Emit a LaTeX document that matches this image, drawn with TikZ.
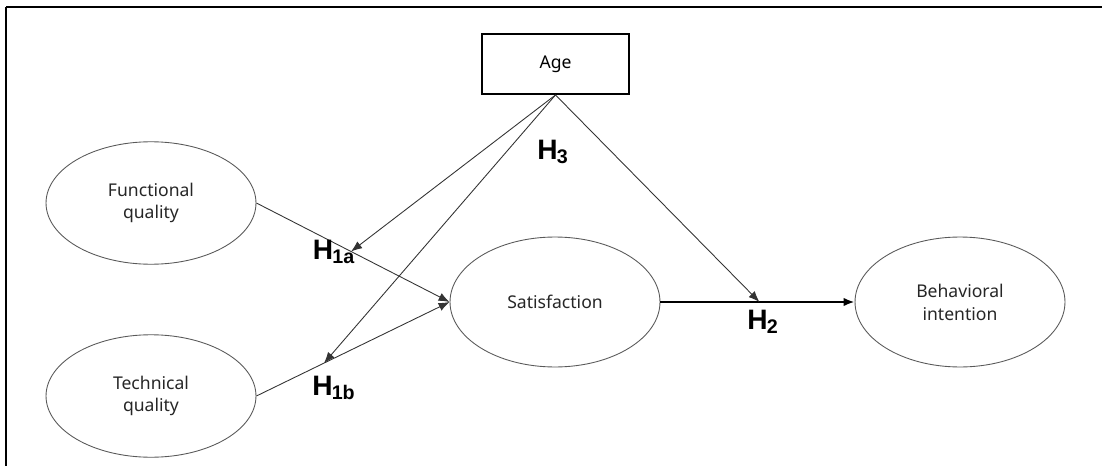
\documentclass[tikz,border=0pt]{standalone}
\usepackage{fontspec}
\setmainfont{Noto Sans}
\newfontfamily\hfont{Liberation Sans}
\usepackage{tikz}
\usetikzlibrary{positioning, arrows.meta, shapes.geometric}

\begin{document}
\begin{tikzpicture}[x=0.02cm, y=-0.02cm,
    construct/.style={draw=black!65, line width=0.5pt, ellipse, minimum width=4.2cm,
                 minimum height=2.45cm, align=center, inner sep=0pt,
                 font=\fontsize{10}{13}\selectfont, text=black!85},
    outcome/.style={construct, minimum height=2.6cm},
    modbox/.style={draw, line width=1.1pt, minimum width=2.94cm, minimum height=1.2cm,
                 font=\fontsize{10}{13}\selectfont},
    hyp/.style={font=\hfont\bfseries\fontsize{16}{18}\selectfont, inner sep=0pt},
    flow/.style={-{Latex[length=2.2mm, width=1.7mm]}, draw=black!80, line width=0.5pt},
    mainflow/.style={flow, draw=black, line width=1.2pt}]
    \useasboundingbox (0,0) rectangle (1102,466);
    \draw[line width=1.1pt] (6,7) -- (1102,7);
    \draw[line width=1.1pt] (6,7) -- (6,466);

    \node[modbox] (age) at (555.5,64) {Age};
    \node[construct] (func) at (151,203) {Functional\\quality};
    \node[construct] (tech) at (151,396) {Technical\\quality};
    \node[outcome] (sat) at (555,302) {Satisfaction};
    \node[outcome] (beh) at (960,302) {Behavioral\\intention};

    \draw[flow] (func.east) -- coordinate[pos=0.49] (m1a) (sat.west);
    \draw[flow] (tech.east) -- coordinate[pos=0.35] (m1b) (sat.west);
    \draw[mainflow] (sat.east) -- coordinate[pos=0.51] (m2) (beh.west);

    \draw[flow] (age.south) -- (m1a);
    \draw[flow] (age.south) -- (m1b);
    \draw[flow] (age.south) -- (m2);

    \node[hyp] (h3) at (553,152) {H\kern-0.5pt\textsubscript{3}};
    \node[hyp] (h1a) at (334,252) {H\kern-0.5pt\textsubscript{1a}};
    \node[hyp] (h1b) at (334,388) {H\kern-0.5pt\textsubscript{1b}};
    \node[hyp] (h2) at (763,322) {H\kern-0.5pt\textsubscript{2}};
\end{tikzpicture}
\end{document}
